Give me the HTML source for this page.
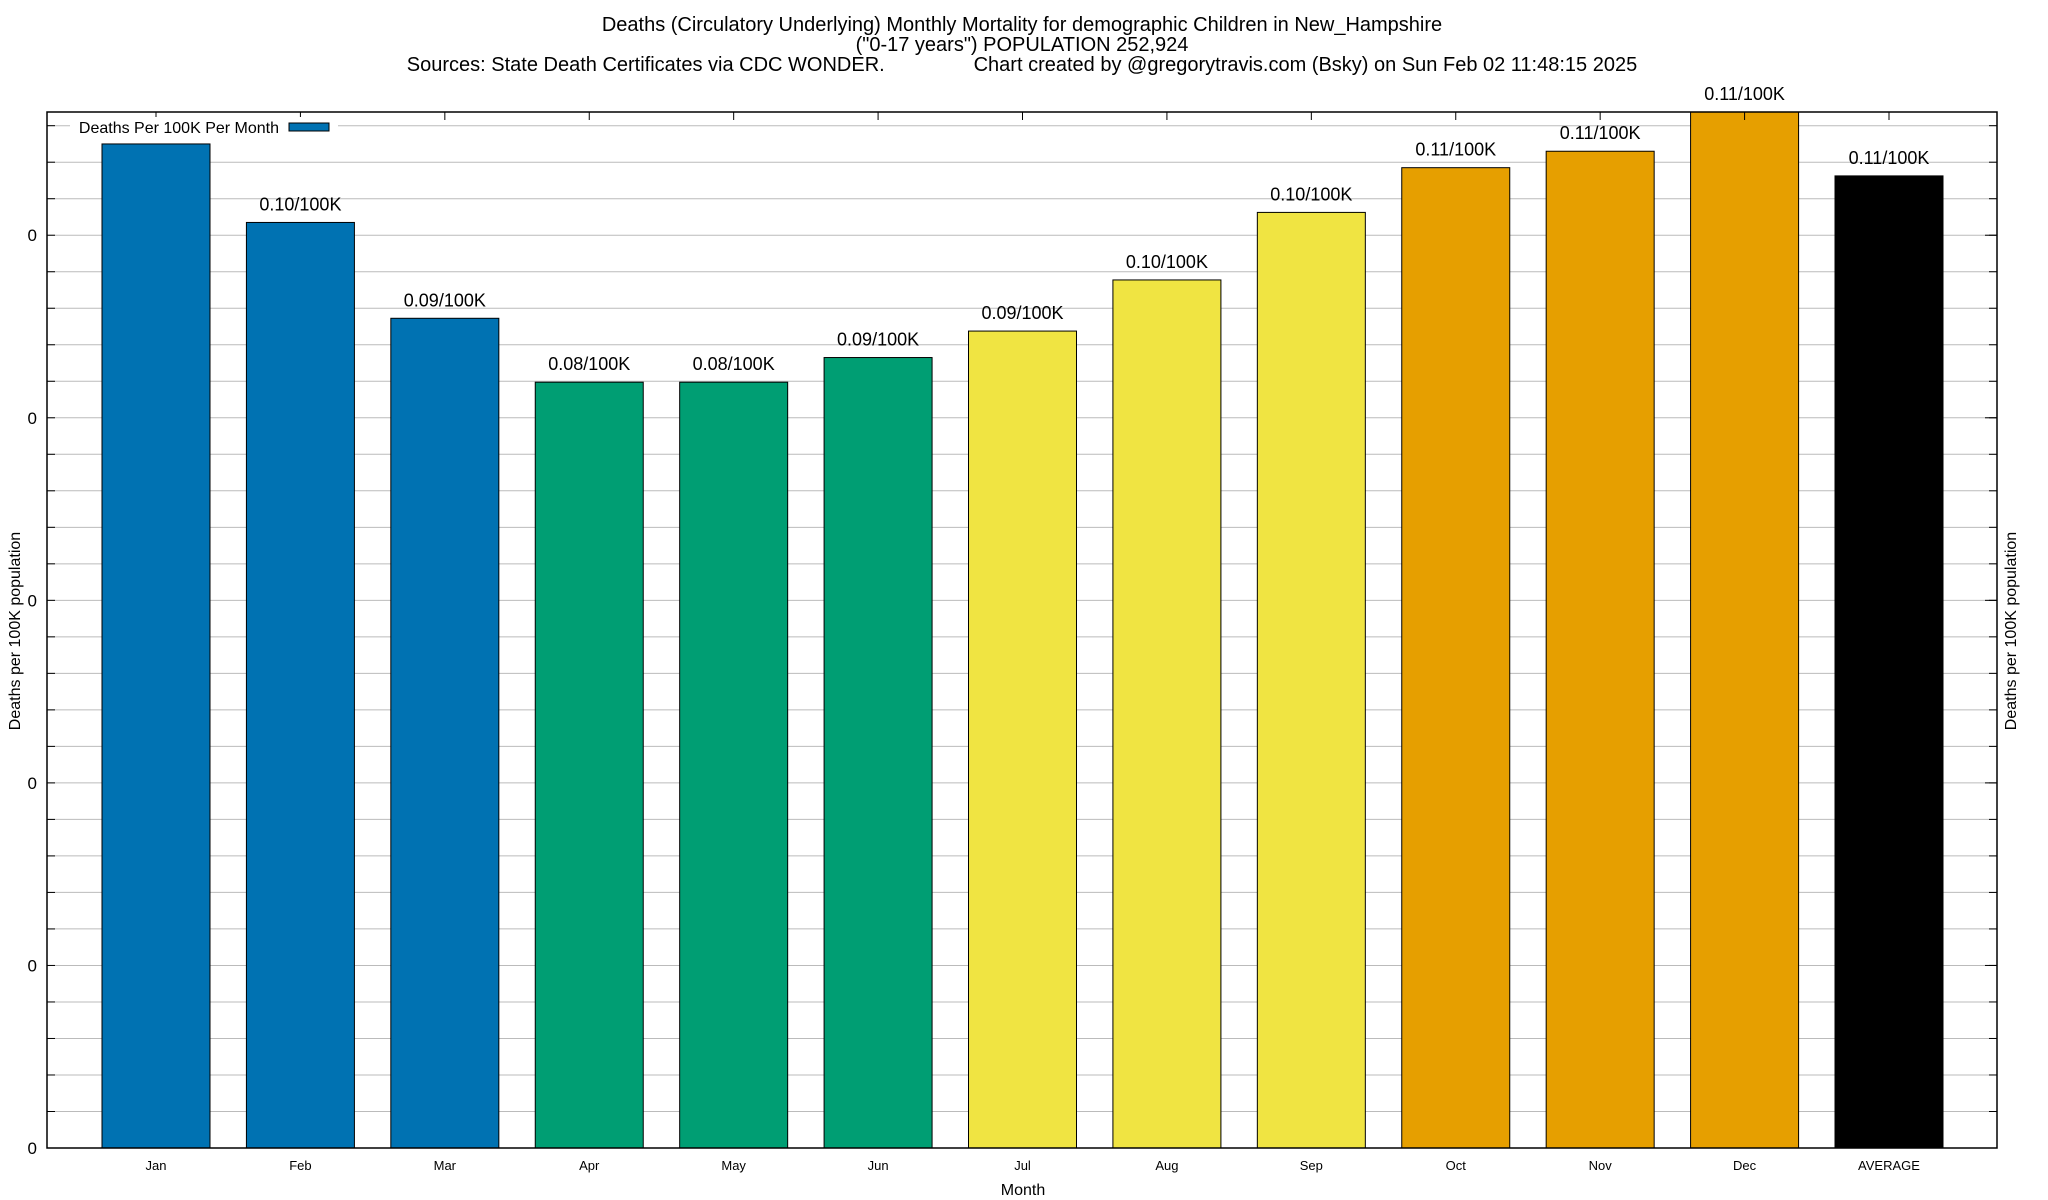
<!DOCTYPE html>
<html><head><meta charset="utf-8"><style>
html,body{margin:0;padding:0;background:#fff;}
svg{display:block;font-family:"Liberation Sans",Arial,sans-serif;}
</style></head><body>
<svg id="chart" width="2048" height="1200" viewBox="0 0 2048 1200">
<g id="titles">
<text x="1022" y="31" font-size="20" text-anchor="middle">Deaths (Circulatory Underlying) Monthly Mortality for demographic Children in New_Hampshire</text>
<text x="1022" y="51" font-size="20" text-anchor="middle">("0-17 years") POPULATION 252,924</text>
<text x="1022" y="71" font-size="20" text-anchor="middle" xml:space="preserve">Sources: State Death Certificates via CDC WONDER.                Chart created by @gregorytravis.com (Bsky) on Sun Feb 02 11:48:15 2025</text>
</g>
<g id="grid"></g>
<g id="bars"></g>
<g id="axes"></g>
<rect x="47" y="112" width="1950" height="1036" fill="none" stroke="#000" stroke-width="1.5"/>
<g>
<rect x="70" y="117" width="268" height="20" fill="#fff"/>
<text x="279" y="133" font-size="16" text-anchor="end">Deaths Per 100K Per Month</text>
<rect x="289" y="123" width="40" height="8" fill="#0072b2" stroke="#000"/>
</g>
<text x="20" y="631" font-size="16" text-anchor="middle" transform="rotate(-90 20 631)">Deaths per 100K population</text>
<text x="2016" y="631" font-size="16" text-anchor="middle" transform="rotate(-90 2016 631)">Deaths per 100K population</text>
<text x="1023" y="1195" font-size="16" text-anchor="middle">Month</text>
</svg>
<script>
const categories = ["Jan","Feb","Mar","Apr","May","Jun","Jul","Aug","Sep","Oct","Nov","Dec","AVERAGE"];
const values = [0.110,0.1014,0.0909,0.0839,0.0839,0.0866,0.0895,0.0951,0.1025,0.1074,0.1092,0.1135,0.1065];
const valueLabels = ["","0.10/100K","0.09/100K","0.08/100K","0.08/100K","0.09/100K","0.09/100K","0.10/100K","0.10/100K","0.11/100K","0.11/100K","0.11/100K","0.11/100K"];
const barColors = ["#0072b2","#0072b2","#0072b2","#009e73","#009e73","#009e73","#f0e442","#f0e442","#f0e442","#e69f00","#e69f00","#e69f00","#000000"];
const yTickValues = [0,0.02,0.04,0.06,0.08,0.10];
const yTickLabels = ["0","0","0","0","0","0"];
const yMax = 0.1135;

const NS="http://www.w3.org/2000/svg";
const L=47,R=1997,T=112,B=1148;
const yScale=v=>B-(v/yMax)*(B-T);
const xScale=i=>156+i*((1889-156)/12);
const bw=108;
function mk(tag,attrs,parent){const e=document.createElementNS(NS,tag);for(const k in attrs)e.setAttribute(k,attrs[k]);parent.appendChild(e);return e;}
const grid=document.getElementById('grid'),bars=document.getElementById('bars'),axes=document.getElementById('axes');
for(let k=1;k*0.004<yMax;k++){
  const y=yScale(k*0.004);
  const g=mk('line',{x1:L,x2:R,y1:y,y2:y,stroke:'#bbb','stroke-width':1},grid);
  
  
  const t1=mk('line',{x1:L,x2:L+8,y1:y,y2:y,stroke:'#000'},axes);
  
  
  const t2=mk('line',{x1:R-8,x2:R,y1:y,y2:y,stroke:'#000'},axes);
  
  
}
yTickValues.forEach((v,i)=>{
  const y=yScale(v);
  const t=mk('text',{x:37,y:y+6,'font-size':17,'text-anchor':'end'},axes);
  t.textContent=yTickLabels[i];
  
  
  const m=mk('line',{x1:R-12,x2:R,y1:y,y2:y,stroke:'#000'},axes);
  
  
});
categories.forEach((c,i)=>{
  const cx=xScale(i),top=yScale(values[i]);
  const r=mk('rect',{x:cx-bw/2,y:top,width:bw,height:B-top,fill:barColors[i],stroke:'#000','stroke-width':1},bars);
  
  
  if(valueLabels[i]){
    const t=mk('text',{x:cx,y:top-12,'font-size':18,'text-anchor':'middle'},bars);
    t.textContent=valueLabels[i];
    
    
  }
  const xl=mk('text',{x:cx,y:1170,'font-size':13,'text-anchor':'middle'},axes);
  xl.textContent=c;
  
  
  const tt=mk('line',{x1:cx,x2:cx,y1:T,y2:T+8,stroke:'#000'},axes);
  
  
});
</script>
</body></html>
